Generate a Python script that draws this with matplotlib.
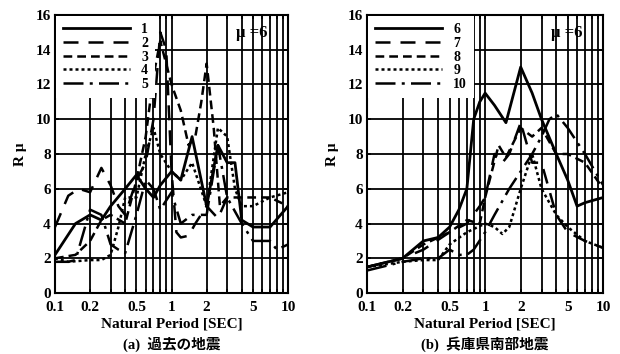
import matplotlib
matplotlib.use("Agg")
import matplotlib.pyplot as plt
from matplotlib.ticker import NullFormatter, LogLocator

plt.rcParams['font.family'] = ['Liberation Serif', 'Noto Sans CJK JP', 'DejaVu Sans']
plt.rcParams['font.weight'] = 'bold'

# ---- data: panel (a) past earthquakes ----
a1_x = [0.1, 0.15, 0.2, 0.25, 0.3, 0.4, 0.5, 0.6, 0.7, 0.8, 1.0, 1.2, 1.5, 2.0, 2.5, 3.0, 3.5, 4.0, 5.0, 7.0, 10.0]
a1_y = [2.2, 4.0, 4.5, 4.2, 5.0, 6.0, 6.8, 6.0, 5.5, 6.2, 7.0, 6.5, 9.0, 5.0, 8.5, 7.5, 7.5, 4.2, 3.8, 3.8, 5.0]
a2_x = [0.1, 0.13, 0.16, 0.2, 0.25, 0.3, 0.35, 0.4, 0.5, 0.6, 0.7, 0.8, 0.9, 1.0, 1.1, 1.2, 1.4, 1.6, 2.0, 2.5, 3.0]
a2_y = [3.8, 5.6, 6.0, 5.8, 7.2, 6.2, 5.0, 4.5, 6.5, 7.5, 10.0, 15.0, 14.0, 7.0, 3.5, 3.2, 3.3, 4.0, 5.0, 4.3, 5.5]
a3_x = [0.1, 0.15, 0.2, 0.25, 0.3, 0.4, 0.5, 0.6, 0.7, 0.8, 1.0, 1.2, 1.4, 1.6, 1.8, 2.0, 2.3, 2.6, 3.0, 4.0, 5.0, 7.0, 10.0]
a3_y = [2.0, 2.2, 3.0, 4.2, 4.5, 4.0, 6.5, 9.0, 12.5, 14.5, 12.0, 10.5, 8.5, 9.0, 11.0, 13.2, 9.5, 5.0, 5.5, 5.5, 5.5, 5.5, 5.0]
a4_x = [0.1, 0.13, 0.2, 0.25, 0.3, 0.35, 0.4, 0.5, 0.6, 0.7, 0.8, 1.0, 1.2, 1.5, 2.0, 2.5, 3.0, 3.5, 4.0, 5.0, 7.0, 10.0]
a4_y = [2.0, 1.8, 1.9, 1.9, 2.2, 3.8, 5.5, 5.5, 8.0, 9.5, 8.0, 7.0, 6.5, 7.5, 5.0, 9.5, 9.0, 6.0, 5.0, 5.0, 5.5, 5.8]
a5_x = [0.1, 0.13, 0.15, 0.2, 0.25, 0.3, 0.35, 0.4, 0.5, 0.6, 0.7, 0.8, 1.0, 1.2, 1.5, 2.0, 2.5, 3.0, 4.0, 5.0, 7.0, 8.0, 10.0]
a5_y = [1.8, 1.8, 1.9, 4.8, 4.5, 2.8, 2.5, 2.3, 4.5, 6.5, 6.0, 4.8, 5.8, 4.0, 4.5, 4.5, 8.5, 5.5, 4.0, 3.0, 3.0, 2.5, 2.8]

# ---- data: panel (b) Hyogo-ken Nanbu earthquake ----
b6_x = [0.1, 0.2, 0.3, 0.4, 0.5, 0.6, 0.7, 0.8, 0.9, 1.0, 1.2, 1.5, 2.0, 2.5, 3.0, 4.0, 5.0, 6.0, 7.0, 10.0]
b6_y = [1.5, 2.0, 3.0, 3.2, 3.8, 4.8, 6.0, 10.0, 11.0, 11.5, 10.8, 9.8, 13.0, 11.5, 10.0, 8.0, 6.5, 5.0, 5.2, 5.5]
b7_x = [0.1, 0.2, 0.3, 0.5, 0.7, 0.9, 1.0, 1.2, 1.4, 1.6, 2.0, 2.5, 3.0, 4.0, 5.0, 7.0, 10.0]
b7_y = [1.5, 2.0, 2.5, 3.5, 4.0, 5.0, 5.5, 8.0, 7.5, 8.0, 9.8, 7.5, 7.5, 4.5, 3.5, 3.0, 2.6]
b8_x = [0.1, 0.2, 0.3, 0.5, 0.7, 0.9, 1.0, 1.3, 1.5, 2.0, 2.5, 3.0, 4.0, 5.0, 7.0, 10.0]
b8_y = [1.5, 2.0, 2.8, 3.5, 4.2, 4.0, 5.5, 8.5, 7.8, 9.5, 9.0, 9.5, 8.0, 8.0, 7.5, 6.0]
b9_x = [0.1, 0.2, 0.3, 0.4, 0.5, 0.7, 1.0, 1.2, 1.4, 1.6, 2.0, 2.5, 3.0, 4.0, 5.0, 7.0, 10.0]
b9_y = [1.5, 1.8, 1.9, 1.9, 2.8, 3.5, 4.0, 3.8, 3.4, 3.8, 6.0, 8.0, 6.0, 4.5, 3.8, 3.0, 2.6]
b10_x = [0.1, 0.2, 0.3, 0.4, 0.5, 0.6, 0.7, 0.8, 1.0, 1.2, 1.6, 2.0, 2.5, 3.0, 3.5, 4.0, 5.0, 7.0, 10.0]
b10_y = [1.3, 1.8, 2.0, 2.0, 2.5, 2.2, 2.2, 2.5, 3.5, 4.5, 6.0, 7.0, 8.0, 9.0, 10.0, 10.3, 9.5, 8.0, 6.2]

labels_a = ['1', '2', '3', '4', '5']
labels_b = ['6', '7', '8', '9', '10']
xtick_vals = [0.1, 0.2, 0.5, 1, 2, 5, 10]
xtick_labels = ['0.1', '0.2', '0.5', '1', '2', '5', '10']
ytick_vals = [0, 2, 4, 6, 8, 10, 12, 14, 16]

styles = [
    dict(linestyle='-', linewidth=2.0),
    dict(linestyle=(0, (6, 4)), linewidth=1.8),
    dict(linestyle=(0, (3.5, 2)), linewidth=1.8),
    dict(linestyle=(0, (1.2, 1.2)), linewidth=1.8),
    dict(linestyle=(0, (8, 2.5, 1.2, 2.5)), linewidth=1.8),
]

fig = plt.figure(figsize=(6.2, 3.54), dpi=100)
ax_a = fig.add_axes([0.0887, 0.172, 0.376, 0.786])
ax_b = fig.add_axes([0.592, 0.172, 0.381, 0.786])

panels = [
    (ax_a, [(a1_x, a1_y), (a2_x, a2_y), (a3_x, a3_y), (a4_x, a4_y), (a5_x, a5_y)], labels_a, '(a)  過去の地震'),
    (ax_b, [(b6_x, b6_y), (b7_x, b7_y), (b8_x, b8_y), (b9_x, b9_y), (b10_x, b10_y)], labels_b, '(b)  兵庫県南部地震'),
]

for ax, series, labels, title in panels:
    for (xs, ys), st, lab in zip(series, styles, labels):
        ax.plot(xs, ys, color='black', label=lab, **st)
    ax.set_xscale('log')
    ax.set_xlim(0.1, 10)
    ax.set_ylim(0, 16)
    ax.set_xticks(xtick_vals)
    ax.set_xticklabels(xtick_labels)
    ax.xaxis.set_minor_locator(LogLocator(base=10, subs=range(2, 10)))
    ax.xaxis.set_minor_formatter(NullFormatter())
    ax.set_yticks(ytick_vals)
    ax.grid(True, which='both', axis='x', color='black', linewidth=1.3)
    ax.grid(True, which='major', axis='y', color='black', linewidth=1.3)
    ax.set_axisbelow(True)
    for sp in ax.spines.values():
        sp.set_linewidth(1.5)
    ax.tick_params(which='both', direction='in', top=True, right=True, length=3, width=1.2)
    ax.tick_params(axis='x', which='major', labelsize=11, pad=6)
    ax.tick_params(axis='y', which='major', labelsize=11, pad=3)
    for t in ax.get_xticklabels() + ax.get_yticklabels():
        t.set_fontweight('bold')
    ax.set_ylabel('R μ', fontsize=11, fontweight='bold', labelpad=6)
    ax.set_xlabel('Natural Period [SEC]', fontsize=11, fontweight='bold', labelpad=2)
    ax.text(0.5, -0.183, title, transform=ax.transAxes, ha='center', va='center',
            fontsize=10.5, fontweight='bold')
    ax.text(0.91, 0.935, 'μ =6', transform=ax.transAxes, ha='right', va='center',
            fontsize=12, fontweight='bold')
    leg = ax.legend(loc='upper left', fontsize=10, handlelength=4.8, handletextpad=0.8,
                    labelspacing=0.05, borderpad=0.5, borderaxespad=0.1,
                    frameon=True, fancybox=False, framealpha=1.0)
    leg.get_frame().set_edgecolor('none')
    leg.get_frame().set_facecolor('white')
    for t in leg.get_texts():
        t.set_fontweight('bold')
    leg.set_zorder(5)

fig.savefig('out.png', dpi=100, facecolor='white')
